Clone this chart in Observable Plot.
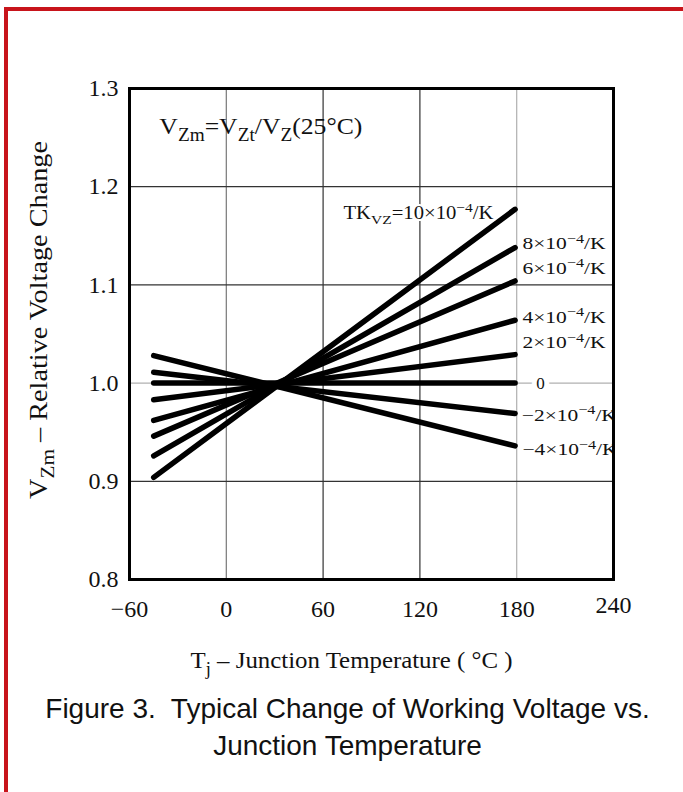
<!DOCTYPE html>
<html><head><meta charset="utf-8">
<script src="https://cdn.jsdelivr.net/npm/d3@7"></script>
<script src="https://cdn.jsdelivr.net/npm/@observablehq/plot@0.6"></script>
<style>
html,body{margin:0;padding:0;background:#fff;}
#page{position:relative;width:683px;height:792px;overflow:hidden;background:#fff;}
#redTop{position:absolute;top:7px;left:4px;right:0;height:4px;background:#c8141b;}
#redLeft{position:absolute;top:7px;left:4px;bottom:0;width:4px;background:#c8141b;}
#chart{position:absolute;top:0;left:0;}
#caption{position:absolute;top:690px;left:0;width:671px;padding-left:12px;text-align:center;font-family:"Liberation Sans",Arial,sans-serif;font-size:28px;line-height:37px;color:#111;white-space:pre;}
</style></head>
<body><div id="page"><div id="chart"></div><div id="redTop"></div><div id="redLeft"></div><div id="caption"></div></div>
<script>
const xTicks = [-60, 0, 60, 120, 180, 240];
const yTicks = [0.8, 0.9, 1.0, 1.1, 1.2, 1.3];
const xGrid = [0, 60, 120, 180];
const yGrid = [0.9, 1.0, 1.1, 1.2];
const coefficients = [10, 8, 6, 4, 2, 0, -2, -4];
const startTemp = -45;
const endTemp = 179;
const startValues = [0.904, 0.926, 0.946, 0.962, 0.983, 1.0, 1.011, 1.028];
const endValues = [1.177, 1.138, 1.104, 1.064, 1.029, 1.0, 0.969, 0.936];
const lineLabels = ["TK_{VZ}=10×10^{−4}/K", "8×10^{−4}/K", "6×10^{−4}/K", "4×10^{−4}/K", "2×10^{−4}/K", "0", "−2×10^{−4}/K", "−4×10^{−4}/K"];
const labelTemps = [165.6, 183.6, 183.6, 183.6, 183.6, 194.7, 183.2, 183.6];
const labelValues = [1.173, 1.142, 1.117, 1.067, 1.041, 1.0, 0.967, 0.932];
const annotationText = "V_{Zm}=V_{Zt}/V_{Z}(25°C)";
const annotationTemp = -41.5;
const annotationValue = 1.262;
const xLabel = "T_{j} – Junction Temperature ( °C )";
const yLabel = "V_{Zm} – Relative Voltage Change";
const captionLines = ["Figure 3.  Typical Change of Working Voltage vs.", "Junction Temperature"];

const lineData = coefficients.flatMap((k, i) => [
  {k, t: startTemp, v: startValues[i]},
  {k, t: endTemp, v: endValues[i]}
]);
const labelData = coefficients.map((k, i) => ({k, t: labelTemps[i], v: labelValues[i], text: lineLabels[i]}));

// text widths (px) to match the condensed/stretched typeface of the original
const fitWidths = new Map([
  [annotationText, 203], [xLabel, 322], [yLabel, 358],
  [lineLabels[0], 150], [lineLabels[1], 83], [lineLabels[2], 83], [lineLabels[3], 83], [lineLabels[4], 83],
  [lineLabels[6], 95], [lineLabels[7], 95]
]);

const serif = "'Liberation Serif','Times New Roman',serif";
const labelStyle = {x: "t", y: "v", text: "text", fontSize: 17, clip: true, stroke: "white", strokeWidth: 4, fill: "#111"};
const chart = Plot.plot({
  width: 683,
  height: 680,
  marginLeft: 129,
  marginRight: 70,
  marginTop: 88,
  marginBottom: 101,
  style: {fontFamily: serif, fontSize: "24px", background: "transparent", color: "black", overflow: "visible"},
  x: {domain: [-60, 240], axis: null},
  y: {domain: [0.8, 1.3], axis: null},
  marks: [
    Plot.ruleX(xGrid.filter(d => d === 60 || d === 120), {x: d => d, stroke: "#333", strokeWidth: 1.2}),
    Plot.ruleX(xGrid.filter(d => d === 0), {x: d => d, stroke: "#777", strokeWidth: 1.2}),
    Plot.ruleX(xGrid.filter(d => d === 180), {x: d => d, stroke: "#b0b0b0", strokeWidth: 1.2}),
    Plot.ruleY(yGrid.filter(d => d !== 1.0), {y: d => d, stroke: "#333", strokeWidth: 1.2}),
    Plot.ruleY(yGrid.filter(d => d === 1.0), {y: d => d, stroke: "#b0b0b0", strokeWidth: 1.2}),
    Plot.line(lineData, {x: "t", y: "v", z: "k", stroke: "black", strokeWidth: 5.5, strokeLinecap: "round"}),
    Plot.text(labelData.filter(d => d.k === 10), {...labelStyle, fontSize: 18, textAnchor: "end"}),
    Plot.text(labelData.filter(d => d.k === 0), {...labelStyle, textAnchor: "middle", strokeWidth: 10}),
    Plot.text(labelData.filter(d => d.k !== 10 && d.k !== 0), {...labelStyle, textAnchor: "start"}),
    Plot.text([annotationText], {x: annotationTemp, y: annotationValue, text: d => d, textAnchor: "start", fontSize: 24, fill: "#111"}),
    Plot.frame({stroke: "black", strokeWidth: 3}),
    Plot.text(yTicks, {x: -60, y: d => d, text: d => d3.format(".1f")(d), dx: -11, textAnchor: "end", fill: "#111"}),
    Plot.text(xTicks.filter(d => d !== 240), {x: d => d, y: 0.8, text: d => d < 0 ? "−" + Math.abs(d) : String(d), dy: 30, fill: "#111"}),
    Plot.text(xTicks.filter(d => d === 240), {x: d => d, y: 0.8, text: d => String(d), dy: 26, fill: "#111"}),
    Plot.text([xLabel], {frameAnchor: "bottom", text: d => d, textAnchor: "middle", lineAnchor: "middle", dx: -20, dy: 81, fontSize: 24, fill: "#111"}),
    Plot.text([yLabel], {frameAnchor: "left", text: d => d, textAnchor: "middle", lineAnchor: "middle", rotate: -90, dx: -91, dy: -14, fontSize: 25, fill: "#111"})
  ]
});
document.getElementById("chart").appendChild(chart);

function richify(textEl) {
  const s = textEl.textContent;
  const fit = fitWidths.get(s);
  if (/[_^]\{/.test(s)) {
    const fs = parseFloat(getComputedStyle(textEl).fontSize) || 20;
    textEl.textContent = "";
    const re = /([_^])\{([^}]*)\}/g;
    let last = 0, m, shift = 0;
    const add = (str, kind) => {
      if (!str) return;
      const ts = document.createElementNS("http://www.w3.org/2000/svg", "tspan");
      const target = kind === "_" ? 0.3 * fs : kind === "^" ? -0.38 * fs : 0;
      const d = target - shift;
      if (d) ts.setAttribute("dy", d);
      shift = target;
      if (kind) ts.setAttribute("font-size", (0.75 * fs).toFixed(1));
      ts.textContent = str;
      textEl.appendChild(ts);
    };
    while ((m = re.exec(s))) { add(s.slice(last, m.index), null); add(m[2], m[1]); last = re.lastIndex; }
    add(s.slice(last), null);
  }
  if (fit) {
    textEl.setAttribute("textLength", fit);
    textEl.setAttribute("lengthAdjust", "spacingAndGlyphs");
  }
}
chart.querySelectorAll("text").forEach(richify);

const cap = document.getElementById("caption");
captionLines.forEach(line => {
  const div = document.createElement("div");
  div.textContent = line;
  cap.appendChild(div);
});
</script>
</body></html>
